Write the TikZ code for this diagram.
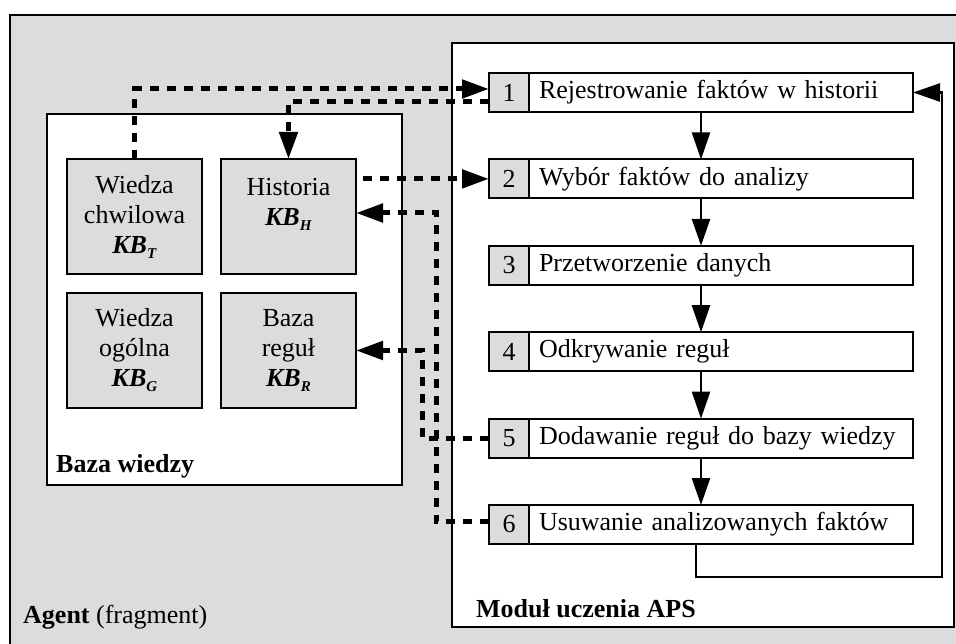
\documentclass[tikz,border=0pt]{standalone}
\usepackage{fontspec}
\setmainfont{Liberation Serif}
\usetikzlibrary{positioning, arrows.meta}

\definecolor{boxgray}{RGB}{220,220,220}
\newcommand{\kbname}[1]{\textbf{\textit{KB}}\raisebox{-5pt}{\fontsize{15}{15}\selectfont\textbf{\textit{#1}}}}

\begin{document}
\begin{tikzpicture}[x=1pt, y=-1pt, font=\fontsize{26}{30}\selectfont,
  frame/.style={draw, line width=2pt, anchor=north west, inner sep=0pt, outer sep=0pt},
  kbbox/.style={draw, fill=boxgray, line width=2pt, minimum width=135pt, minimum height=115pt, align=center, inner sep=2pt, outer sep=0pt},
  numcell/.style={draw, fill=boxgray, line width=2pt, minimum width=40pt, minimum height=39pt, inner sep=0pt, outer sep=0pt},
  stepbox/.style={draw, fill=white, line width=2pt, minimum height=39pt, text width=364pt, inner xsep=10pt, inner ysep=0pt, outer sep=0pt, align=left},
  caption/.style={anchor=base west, inner sep=0pt},
  flow/.style={line width=2.5pt, -{Triangle[length=27pt, width=18pt]}},
  link/.style={line width=5pt, dash pattern=on 9pt off 8pt, -{Triangle[length=27pt, width=18pt]}}]
  \useasboundingbox (0,0) rectangle (956,644);
  \clip (0,0) rectangle (956,644);

  % frames
  \node[frame, fill=boxgray, minimum width=1000pt, minimum height=700pt] (agent) at (10,15) {};
  \node[frame, fill=white, minimum width=502pt, minimum height=584pt] (aps) at (452,43) {};
  \node[frame, fill=white, minimum width=355pt, minimum height=371pt] (kb) at (47,114) {};

  % knowledge base
  \node[kbbox] (wc) at (134.5,216.5) {Wiedza\\chwilowa\\\kbname{T}};
  \node[kbbox, right=19pt of wc] (hist) {Historia\\\kbname{H}\\\mbox{}};
  \node[kbbox, below=19pt of wc] (wo) {Wiedza\\ogólna\\\kbname{G}};
  \node[kbbox, right=19pt of wo] (br) {Baza\\reguł\\\kbname{R}};

  % learning steps
  \foreach \i/\y/\txt in {1/92.5/Rejestrowanie faktów w historii,
                          2/178.9/Wybór faktów do analizy,
                          3/265.3/Przetworzenie danych,
                          4/351.7/Odkrywanie reguł,
                          5/438.1/Dodawanie reguł do bazy wiedzy,
                          6/524.5/Usuwanie analizowanych faktów} {
    \node[numcell] (n\i) at (509,\y) {\i};
    \node[stepbox, right=0pt of n\i] (s\i) {\txt};
  }

  \foreach \a/\b in {s1/s2, s2/s3, s3/s4, s4/s5, s5/s6}
    \draw[flow] ([xshift=-20pt]\a.south) -- ([xshift=-20pt]\b.north);
  \coordinate (loopturn) at (942,577);
  \draw[flow] ([xshift=-25pt]s6.south) |- (loopturn) |- (s1.east);

  % data exchange
  \draw[link] (wc.north) |- ([yshift=3.5pt]n1.west);
  \draw[link] ([yshift=-9.5pt]n1.west) -| (hist.north);
  \draw[link, shorten <=7pt] (hist.east |- n2.west) -- (n2.west);
  \draw[link] ([yshift=3pt]n6.west) -- ++(-53,0) |- ([yshift=3.5pt]hist.east);
  \draw[link] (n5.west) -- ++(-67,0) |- (br.east);

  % captions
  \node[caption] (kblabel) at (56,472) {\bfseries Baza wiedzy};
  \node[caption] (apslabel) at (476,617) {\bfseries Moduł uczenia APS};
  \node[caption] (agentlabel) at (23,623) {\textbf{Agent} (fragment)};
\end{tikzpicture}
\end{document}
